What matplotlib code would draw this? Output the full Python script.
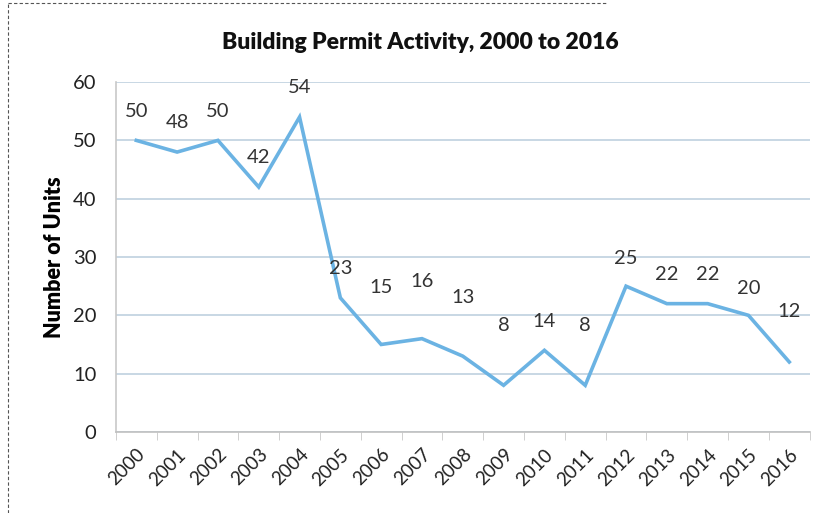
import numpy as np
import matplotlib.pyplot as plt
from matplotlib.lines import Line2D

plt.rcParams['font.family'] = ['Lato', 'DejaVu Sans']

years = [str(y) for y in range(2000, 2017)]
units = [50, 48, 50, 42, 54, 23, 15, 16, 13, 8, 14, 8, 25, 22, 22, 20, 12]
# label offsets above point (points), as placed in the original
label_dy = [21, 21, 21, 21, 21, 21, 41, 41, 42, 43, 21, 43, 20, 21, 21, 19, 36]

line_col = '#6bb3e3'
grid_col = '#b9cddd'

fig = plt.figure(figsize=(8.22, 5.13), dpi=100)
ax = fig.add_axes([0.141, 0.158, 0.844, 0.682])

x = np.arange(len(years))
ax.plot(x, units, color=line_col, lw=2.6, solid_joinstyle='miter')

for xi, v, dy in zip(x, units, label_dy):
    ax.annotate(str(v), (xi, v), xytext=(0, dy), textcoords='offset points',
                ha='center', va='center', fontsize=14.5, color='#333333')

ax.set_xlim(-0.5, len(years) - 0.5)
ax.set_ylim(0, 60)
ax.set_yticks(range(0, 61, 10))
ax.yaxis.grid(True, color=grid_col, lw=1.1)
ax.set_axisbelow(True)

ax.set_xticks(x)
ax.set_xticklabels(years, rotation=45, ha='right', rotation_mode='anchor',
                   fontsize=13.5, color='#222222')
ax.set_xticks(np.arange(-0.5, len(years)), minor=True)
ax.tick_params(axis='x', which='major', length=0, pad=10)
ax.tick_params(axis='x', which='minor', length=6, color='#c8c8c8')
ax.tick_params(axis='y', length=0, pad=14, labelsize=14.5, labelcolor='#222222')

for s in ['top', 'right']:
    ax.spines[s].set_visible(False)
ax.spines['left'].set_color('#c8c8c8')
ax.spines['bottom'].set_color('#c0c0c0')
ax.spines['left'].set_linewidth(1.2)
ax.spines['bottom'].set_linewidth(1.2)

ax.set_ylabel('Number of Units', fontsize=15.5, fontweight='heavy', labelpad=6)
fig.text(0.511, 0.918, 'Building Permit Activity, 2000 to 2016', ha='center',
         va='center', fontsize=16.5, fontweight='heavy', color='#111111')

# scanned page border
fig.add_artist(Line2D([0.01, 0.01], [0.0, 0.995], transform=fig.transFigure,
                      color='#555555', lw=0.8, ls=(0, (3, 2))))
fig.add_artist(Line2D([0.01, 0.74], [0.995, 0.995], transform=fig.transFigure,
                      color='#555555', lw=0.8, ls=(0, (3, 2))))

fig.savefig('out.png', dpi=100)
